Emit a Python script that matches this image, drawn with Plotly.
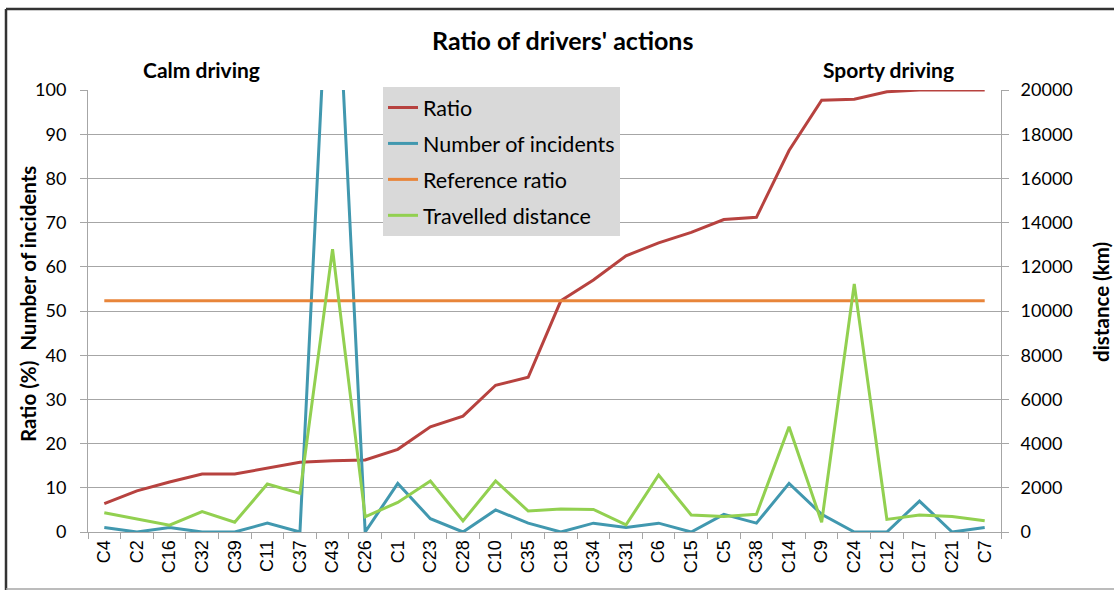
import plotly.graph_objects as go

categories = ["C4", "C2", "C16", "C32", "C39", "C11", "C37", "C43", "C26", "C1",
              "C23", "C28", "C10", "C35", "C18", "C34", "C31", "C6", "C15", "C5",
              "C38", "C14", "C9", "C24", "C12", "C17", "C21", "C7"]
ratio = [6.4, 9.3, 11.3, 13.1, 13.1, 14.5, 15.8, 16.1, 16.3, 18.7,
         23.8, 26.2, 33.2, 35.0, 52.3, 57.0, 62.5, 65.4, 67.8, 70.7,
         71.2, 86.3, 97.7, 97.9, 99.6, 100.0, 100.0, 100.0]
incidents = [1, 0, 1, 0, 0, 2, 0, 150, 0, 11,
             3, 0, 5, 2, 0, 2, 1, 2, 0, 4,
             2, 11, 4, 0, 0, 7, 0, 1]
reference_ratio = [52.3] * len(categories)
distance = [870, 590, 310, 920, 440, 2170, 1750, 12800, 690, 1340,
            2310, 500, 2310, 950, 1040, 1020, 320, 2580, 770, 700,
            800, 4760, 440, 11220, 570, 770, 700, 510]

FONT = "Lato"
GRID = "#A6A6A6"

fig = go.Figure()
fig.add_trace(go.Scatter(x=categories, y=ratio, name="Ratio", mode="lines",
                         line=dict(color="#B7423F", width=3), legendgroup="a"))
fig.add_trace(go.Scatter(x=categories, y=incidents, name="Number of incidents", mode="lines",
                         line=dict(color="#4198AF", width=3), legendgroup="b"))
fig.add_trace(go.Scatter(x=categories, y=reference_ratio, name="Reference ratio", mode="lines",
                         line=dict(color="#E8853A", width=3), legendgroup="c"))
fig.add_trace(go.Scatter(x=categories, y=distance, name="Travelled distance", mode="lines",
                         line=dict(color="#92D050", width=3), legendgroup="d", yaxis="y2"))

L, R, T, B = 88, 1001, 90, 532
W, H = 1114, 592


def px(x):
    return (x - L) / (R - L)


def py(y):
    return (B - y) / (B - T)


fig.update_layout(
    width=W, height=H,
    margin=dict(l=L, r=W - R, t=T, b=H - B, pad=0),
    paper_bgcolor="white", plot_bgcolor="white",
    font=dict(family=FONT, size=18, color="black"),
    showlegend=True,
    legend=dict(x=px(383), y=py(87), xanchor="left", yanchor="top",
                bgcolor="#D9D9D9", font=dict(family=FONT, size=21.5, color="black"),
                tracegroupgap=5, itemwidth=30),
    xaxis=dict(type="category", range=[-0.5, len(categories) - 0.5],
               showgrid=False, showline=True, linecolor=GRID, linewidth=1,
               ticks="outside", ticklen=6, tickcolor=GRID, tickson="boundaries",
               tickangle=-90, tickfont=dict(family="Liberation Sans", size=18, color="black")),
    yaxis=dict(range=[0, 100], dtick=10, showgrid=True, gridcolor=GRID, gridwidth=1,
               showline=True, linecolor=GRID, ticks="outside", ticklen=7, tickcolor=GRID,
               tickfont=dict(family=FONT, size=18, color="black"), ticklabelstandoff=10,
               zeroline=False),
    yaxis2=dict(range=[0, 20000], dtick=2000, tickformat="d", overlaying="y", side="right",
                showgrid=False, showline=True, linecolor=GRID, ticks="outside", ticklen=7,
                tickcolor=GRID, tickfont=dict(family=FONT, size=18, color="black"),
                ticklabelstandoff=8, zeroline=False),
)

annotations = [
    dict(text="<b>Ratio of drivers' actions</b>", x=px(562), y=py(40), font=dict(size=25)),
    dict(text="<b>Calm driving</b>", x=px(201), y=py(70), font=dict(size=21)),
    dict(text="<b>Sporty driving</b>", x=px(888), y=py(70), font=dict(size=21)),
    dict(text="<b>Ratio (%)  Number of incidents</b>", x=px(28), y=py(304), textangle=-90,
         font=dict(size=20.5)),
    dict(text="<b>distance (km)</b>", x=px(1101), y=py(302), textangle=-90, font=dict(size=20.5)),
]
for a in annotations:
    a.update(xref="paper", yref="paper", xanchor="center", yanchor="middle", showarrow=False)
    a["font"]["family"] = FONT
    a["font"]["color"] = "black"
fig.update_layout(annotations=annotations)

fig.update_layout(shapes=[
    dict(type="line", xref="paper", yref="paper", x0=px(6), x1=px(6), y0=py(9), y1=py(590),
         line=dict(color="#333333", width=2.5)),
    dict(type="line", xref="paper", yref="paper", x0=px(6), x1=px(1120), y0=py(9), y1=py(9),
         line=dict(color="#333333", width=2.5)),
    dict(type="line", xref="paper", yref="paper", x0=px(6), x1=px(1120), y0=py(589), y1=py(589),
         line=dict(color="#A6A6A6", width=1.5)),
])

fig.write_html("out.html", config={"displayModeBar": False},
               post_script="document.body.style.margin='0';")
